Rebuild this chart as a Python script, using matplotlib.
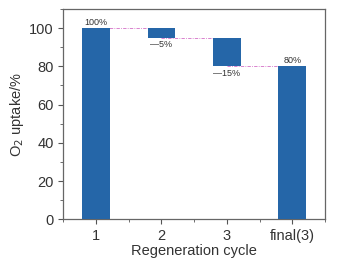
import numpy as np
import matplotlib
matplotlib.use('Agg')
import matplotlib.pyplot as plt
from matplotlib.ticker import MultipleLocator

plt.rcParams['font.family'] = ['Liberation Sans', 'DejaVu Sans']

cycles = ['1', '2', '3', 'final(3)']
start = 100
drops = [-5, -15]
final = 80
labels = ['100%', '\u20145%', '\u201415%', '80%']

bar_color = '#2566a8'
line_color = '#d36fc6'
text_color = '#333333'

# waterfall levels
levels = [start]
for d in drops:
    levels.append(levels[-1] + d)
bottoms = [0] + [levels[i + 1] for i in range(len(drops))] + [0]
heights = [start] + [-d for d in drops] + [final]

fig = plt.figure(figsize=(3.52, 2.64), dpi=100)
ax = fig.add_axes([0.180, 0.169, 0.743, 0.797])

x = np.arange(len(cycles))
ax.bar(x, heights, bottom=bottoms, width=0.42, color=bar_color, zorder=3)

# connectors between bar tops
conn = levels + [final]
for i in range(len(conn) - 1):
    ax.plot([x[i], x[i + 1]], [conn[i], conn[i]], color=line_color,
            lw=0.6, linestyle=(0, (4, 1.5, 1, 1.5)), zorder=2)

# value labels
ax.text(x[0], heights[0] + 0.8, labels[0], ha='center', va='bottom', fontsize=6.5, color=text_color)
ax.text(x[1], bottoms[1] - 1.2, labels[1], ha='center', va='top', fontsize=6.5, color=text_color)
ax.text(x[2], bottoms[2] - 1.2, labels[2], ha='center', va='top', fontsize=6.5, color=text_color)
ax.text(x[3], heights[3] + 0.8, labels[3], ha='center', va='bottom', fontsize=6.5, color=text_color)

ax.set_xlim(-0.5, 3.5)
ax.set_ylim(0, 110)
ax.set_xticks(x)
ax.set_xticklabels(cycles)
ax.xaxis.set_minor_locator(MultipleLocator(0.5))
ax.set_yticks(range(0, 101, 20))
ax.yaxis.set_minor_locator(MultipleLocator(10))

ax.tick_params(which='major', direction='out', length=3.5, width=0.8,
               labelsize=10.5, colors='#555555', labelcolor=text_color)
ax.tick_params(which='minor', direction='out', length=2, width=0.6, colors='#555555')
for s in ax.spines.values():
    s.set_color('#666666')
    s.set_linewidth(0.9)

ax.set_xlabel('Regeneration cycle', fontsize=10.5, color=text_color, labelpad=1)
ax.set_ylabel('O$_2$ uptake/%', fontsize=10.5, color=text_color, labelpad=2)

fig.savefig('out.png', dpi=100)
